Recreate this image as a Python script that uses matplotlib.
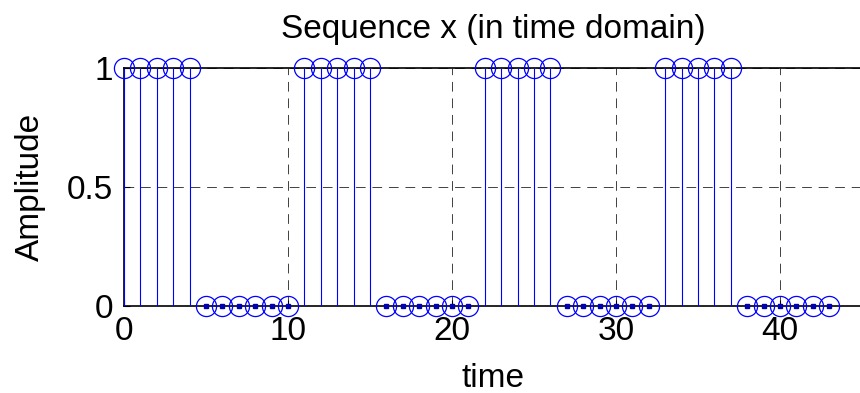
import numpy as np
import matplotlib
matplotlib.use("Agg")
import matplotlib.pyplot as plt

# Data: sequence x(n), n = 0..43
n = list(range(44))
x = [1, 1, 1, 1, 1, 0, 0, 0, 0, 0, 0,
     1, 1, 1, 1, 1, 0, 0, 0, 0, 0, 0,
     1, 1, 1, 1, 1, 0, 0, 0, 0, 0, 0,
     1, 1, 1, 1, 1, 0, 0, 0, 0, 0, 0]
xticks = [0, 10, 20, 30, 40]
yticks = [0, 0.5, 1]
ytick_labels = ["0", "0.5", "1"]

plt.rcParams['font.family'] = ['Liberation Sans', 'DejaVu Sans']

fig = plt.figure(figsize=(8.6, 3.93), dpi=100)
ax = fig.add_axes([124/860, 87/393, 738/860, 238.5/393])

n_arr = np.array(n)
x_arr = np.array(x)
ax.vlines(n_arr, 0, x_arr, colors='#0000ff', linewidth=0.8, zorder=3)
ax.plot(n_arr, x_arr, linestyle='none', marker='o', markersize=14.5,
        markerfacecolor='none', markeredgecolor='#0000ff', markeredgewidth=0.9,
        zorder=4, clip_on=False)
zeros = x_arr == 0
ax.plot(n_arr[zeros], x_arr[zeros], linestyle='none', marker='s', markersize=3.5,
        color='#0000b0', zorder=5, clip_on=False)

ax.set_xlim(0, 45)
ax.set_ylim(0, 1)
ax.set_xticks(xticks)
ax.set_yticks(yticks)
ax.set_yticklabels(ytick_labels)
ax.tick_params(direction='in', length=4, width=0.8, labelsize=24, pad=8,
               top=False, right=False)
ax.tick_params(axis='x', pad=7)
ax.grid(True, color='black', linestyle=(0, (10, 7)), linewidth=0.7, alpha=0.75)
ax.spines['right'].set_visible(False)
for s in ['left', 'bottom', 'top']:
    ax.spines[s].set_linewidth(1.2)

ax.set_title("Sequence x (in time domain)", fontsize=24, pad=21)
ax.set_xlabel("time", fontsize=24, labelpad=12)
ax.set_ylabel("Amplitude", fontsize=24, labelpad=15)

fig.savefig("out.png", dpi=100)
